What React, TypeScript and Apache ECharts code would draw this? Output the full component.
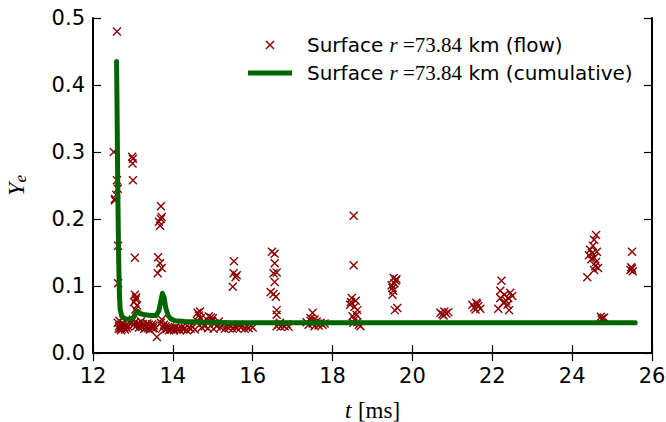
import React, { useEffect, useRef } from "react";
import * as echarts from "echarts";

// Scatter: flow through surface (t in ms, Ye)
const flowT: number[] = [
  // early burst
  12.60, 12.52, 12.55, 12.60, 12.62, 12.58, 12.55, 12.63, 12.63,
  12.62, 12.65, 12.68, 12.70, 12.72, 12.75, 12.78, 12.80, 12.82, 12.85, 12.70, 12.76, 12.66, 12.88, 12.64,
  // ~13.0
  12.98, 13.00, 12.99, 13.00, 13.05, 13.05, 13.07, 13.03, 13.10, 13.06, 13.08,
  12.95, 13.00, 13.02, 13.05, 13.08, 13.12, 13.15, 13.18, 13.20, 13.22, 13.25, 13.28, 13.30, 13.33, 13.36,
  13.38, 13.40, 13.42, 13.45, 13.48, 13.50, 13.52, 13.55, 13.60,
  // ~13.7
  13.70, 13.72, 13.65, 13.68, 13.63, 13.68, 13.72, 13.62, 13.70,
  13.70, 13.72, 13.75, 13.78, 13.80, 13.82, 13.85, 13.88, 13.90, 13.93, 13.96, 14.00, 14.03, 14.06, 14.10,
  14.14, 14.18, 14.22, 14.26, 14.30, 14.35, 14.40, 14.45, 14.50, 14.55,
  // ~14.8
  14.62, 14.65, 14.68, 14.70, 14.60, 14.75, 14.80, 14.85, 14.90, 14.95, 14.98, 15.00, 15.05, 15.10, 15.15,
  14.72, 14.88, 15.02,
  15.20, 15.25, 15.30, 15.35, 15.40, 15.45, 15.50, 15.55, 15.60, 15.65, 15.70, 15.75, 15.80, 15.85, 15.90,
  15.95, 16.00,
  // ~15.5
  15.53, 15.52, 15.60, 15.57, 15.50,
  // ~16.5
  16.48, 16.55, 16.52, 16.60, 16.55, 16.45, 16.52, 16.58, 16.60, 16.60, 16.55,
  16.60, 16.65, 16.70, 16.75, 16.80, 16.85, 16.90, 16.68,
  // ~17.5
  17.50, 17.45, 17.55, 17.35, 17.40, 17.50, 17.60, 17.65, 17.70, 17.75, 17.80, 17.55, 17.45,
  // ~18.5
  18.53, 18.53, 18.48, 18.46, 18.44, 18.55, 18.62, 18.60, 18.50, 18.55, 18.62, 18.66, 18.70, 18.52, 18.58,
  // ~19.5
  19.53, 19.58, 19.48, 19.55, 19.50, 19.52, 19.50, 19.62, 19.56, 19.60,
  // ~20.8
  20.70, 20.75, 20.80, 20.85, 20.90, 20.78,
  // ~21.6
  21.50, 21.55, 21.60, 21.65, 21.70, 21.62, 21.58,
  // ~22.3
  22.23, 22.20, 22.30, 22.40, 22.20, 22.45, 22.15, 22.42, 22.35, 22.28, 22.38, 22.50,
  // ~24.5
  24.60, 24.55, 24.45, 24.50, 24.62, 24.42, 24.55, 24.60, 24.48, 24.65, 24.55, 24.38, 24.52, 24.58,
  24.72, 24.76, 24.80, 24.74,
  // ~25.5
  25.50, 25.46, 25.50, 25.52, 25.48,
];
const flowYe: number[] = [
  0.480, 0.300, 0.230, 0.258, 0.245, 0.236, 0.228, 0.160, 0.104,
  0.045, 0.040, 0.037, 0.042, 0.036, 0.040, 0.038, 0.035, 0.041, 0.037, 0.034, 0.044, 0.048, 0.040, 0.036,
  0.293, 0.290, 0.283, 0.258, 0.142, 0.087, 0.080, 0.076, 0.071, 0.065, 0.083,
  0.045, 0.050, 0.042, 0.046, 0.040, 0.044, 0.038, 0.042, 0.047, 0.039, 0.043, 0.036, 0.041, 0.038, 0.044,
  0.037, 0.042, 0.035, 0.039, 0.043, 0.037, 0.041, 0.036, 0.024,
  0.219, 0.203, 0.196, 0.190, 0.143, 0.134, 0.127, 0.119, 0.200,
  0.045, 0.050, 0.038, 0.042, 0.035, 0.040, 0.036, 0.039, 0.034, 0.038, 0.035, 0.037, 0.034, 0.038, 0.035,
  0.037, 0.034, 0.038, 0.035, 0.037, 0.034, 0.038, 0.036, 0.039, 0.035,
  0.060, 0.056, 0.062, 0.052, 0.048, 0.045, 0.040, 0.050, 0.055, 0.053, 0.048, 0.052, 0.044, 0.040, 0.047,
  0.038, 0.037, 0.036,
  0.038, 0.042, 0.036, 0.040, 0.037, 0.041, 0.036, 0.040, 0.037, 0.042, 0.038, 0.041, 0.036, 0.040, 0.037,
  0.041, 0.038,
  0.137, 0.119, 0.116, 0.113, 0.099,
  0.151, 0.134, 0.119, 0.120, 0.106, 0.091, 0.088, 0.084, 0.064, 0.057, 0.148,
  0.040, 0.043, 0.039, 0.042, 0.040, 0.043, 0.039, 0.045,
  0.060, 0.052, 0.050, 0.046, 0.042, 0.044, 0.047, 0.041, 0.045, 0.042, 0.044, 0.040, 0.048,
  0.205, 0.131, 0.082, 0.076, 0.072, 0.069, 0.064, 0.057, 0.055, 0.050, 0.046, 0.042, 0.040, 0.045, 0.078,
  0.112, 0.108, 0.101, 0.104, 0.097, 0.093, 0.087, 0.067, 0.064, 0.110,
  0.060, 0.058, 0.062, 0.059, 0.061, 0.056,
  0.072, 0.068, 0.075, 0.070, 0.066, 0.073, 0.065,
  0.108, 0.093, 0.087, 0.082, 0.082, 0.090, 0.066, 0.064, 0.078, 0.075, 0.072, 0.085,
  0.176, 0.169, 0.154, 0.149, 0.151, 0.146, 0.142, 0.136, 0.140, 0.127, 0.124, 0.113, 0.160, 0.130,
  0.054, 0.052, 0.053, 0.050,
  0.151, 0.124, 0.126, 0.122, 0.128,
];

// Cumulative curve
const cumT: number[] = [
  12.59, 12.60, 12.62, 12.64, 12.66, 12.68, 12.72, 12.80, 12.90, 13.00, 13.06, 13.12, 13.18, 13.30,
  13.45, 13.58, 13.65, 13.70, 13.74, 13.78, 13.82, 13.88, 13.95, 14.05, 14.30, 14.80, 15.50, 17.00,
  20.00, 23.00, 25.58,
];
const cumYe: number[] = [
  0.435, 0.380, 0.250, 0.150, 0.090, 0.065, 0.055, 0.051, 0.050, 0.052, 0.058, 0.062, 0.059, 0.057,
  0.056, 0.056, 0.063, 0.078, 0.089, 0.083, 0.068, 0.056, 0.051, 0.048, 0.047, 0.046, 0.045, 0.045,
  0.045, 0.045, 0.045,
];

const xTicks = { min: 12, max: 26, interval: 2 };
const yTicks = { min: 0, max: 0.5, interval: 0.1 };

const RED = "#8b0000";
const GREEN = "#006400";
const SANS = "DejaVu Sans";
const SERIF = "Liberation Serif";

export default function App() {
  const ref = useRef<HTMLDivElement>(null);
  useEffect(() => {
    if (!ref.current) return;
    const chart = echarts.init(ref.current, undefined, { renderer: "svg" });
    const axisLine = { show: true, lineStyle: { color: "#000", width: 2 } };
    const tick = { show: true, inside: true, length: 8, lineStyle: { color: "#000", width: 1.2 } };
    const tickFont = { fontFamily: SANS, fontSize: 21, color: "#000" };
    const legendRich = {
      a: { fontFamily: SANS, fontSize: 20, fill: "#000" },
      m: { fontFamily: SERIF, fontStyle: "italic", fontSize: 21, fill: "#000" },
      n: { fontFamily: SERIF, fontSize: 21, fill: "#000" },
    };
    chart.setOption({
      animation: false,
      backgroundColor: "#fff",
      grid: { left: 93, right: 14, top: 18, bottom: 69, containLabel: false, outerBoundsMode: "none" },
      xAxis: [
        {
          type: "value", ...xTicks, position: "bottom",
          axisLine, axisTick: tick, splitLine: { show: false },
          axisLabel: { ...tickFont, margin: 12, showMinLabel: true, showMaxLabel: true },
          name: "{i|t}  {r|[ms]}", nameLocation: "middle", nameGap: 46,
          nameTextStyle: {
            rich: {
              i: { fontFamily: SERIF, fontStyle: "italic", fontSize: 23, color: "#000" },
              r: { fontFamily: SERIF, fontSize: 23, color: "#000" },
            },
          },
        },
        {
          type: "value", ...xTicks, position: "top",
          axisLine, axisTick: tick, axisLabel: { show: false }, splitLine: { show: false },
        },
      ],
      yAxis: [
        {
          type: "value", ...yTicks, position: "left",
          axisLine, axisTick: tick, splitLine: { show: false },
          axisLabel: { ...tickFont, margin: 8, formatter: (v: number) => v.toFixed(1) },
          name: "{i|Y}{s|e}", nameLocation: "middle", nameGap: 64, nameRotate: 90,
          nameTextStyle: {
            rich: {
              i: { fontFamily: SERIF, fontStyle: "italic", fontSize: 24, color: "#000" },
              s: { fontFamily: SERIF, fontStyle: "italic", fontSize: 17, color: "#000", padding: [9, 0, 0, 0] },
            },
          },
        },
        {
          type: "value", ...yTicks, position: "right",
          axisLine, axisTick: tick, axisLabel: { show: false }, splitLine: { show: false },
        },
      ],
      series: [
        {
          type: "scatter",
          name: "flow",
          xAxisIndex: 0, yAxisIndex: 0,
          data: flowT.map((t, i) => [t, flowYe[i]]),
          symbol: "path://M0,0L10,10M10,0L0,10",
          symbolSize: 8,
          itemStyle: { color: "rgba(0,0,0,0)", borderColor: RED, borderWidth: 1.4, opacity: 1 },
          silent: true,
          z: 2,
        },
        {
          type: "line",
          name: "cumulative",
          xAxisIndex: 0, yAxisIndex: 0,
          data: cumT.map((t, i) => [t, cumYe[i]]),
          showSymbol: false,
          symbol: "none",
          lineStyle: { color: GREEN, width: 5, cap: "round", join: "round" },
          silent: true,
          z: 3,
        },
      ],
      graphic: [
        { type: "line", shape: { x1: 266, y1: 41, x2: 274, y2: 49 }, style: { stroke: RED, lineWidth: 1.4 } },
        { type: "line", shape: { x1: 274, y1: 41, x2: 266, y2: 49 }, style: { stroke: RED, lineWidth: 1.4 } },
        { type: "line", shape: { x1: 248, y1: 73, x2: 292, y2: 73 }, style: { stroke: GREEN, lineWidth: 5 } },
        {
          type: "text", x: 307, y: 45,
          style: { text: "{a|Surface }{m|r}{n| =73.84}{a| km (flow)}", verticalAlign: "middle", rich: legendRich },
        },
        {
          type: "text", x: 307, y: 73,
          style: { text: "{a|Surface }{m|r}{n| =73.84}{a| km (cumulative)}", verticalAlign: "middle", rich: legendRich },
        },
      ],
    });
    return () => chart.dispose();
  }, []);
  return (
    <div
      ref={ref}
      style={{ position: "fixed", left: 0, top: 0, width: 666, height: 422 }}
    />
  );
}
